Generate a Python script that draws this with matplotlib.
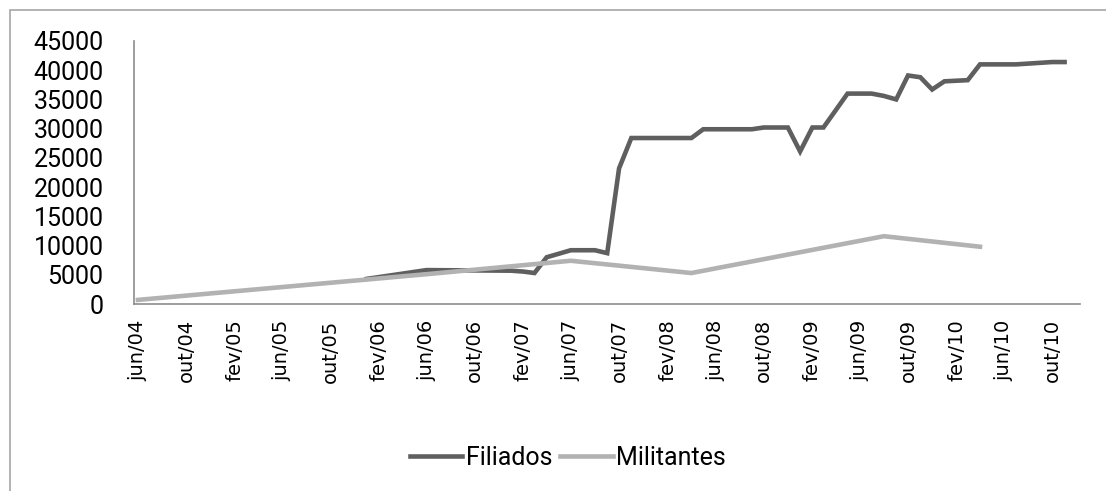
import matplotlib.pyplot as plt
import matplotlib.ticker as mticker
import matplotlib.dates as mdates
from matplotlib.patches import Rectangle
import pandas as pd

# filiados por mês
filiados_meses = ["2006-01", "2006-06", "2007-01", "2007-02", "2007-03", "2007-04",
                  "2007-06", "2007-08", "2007-09", "2007-10", "2007-11", "2008-04",
                  "2008-05", "2008-09", "2008-10", "2008-12", "2009-01", "2009-02",
                  "2009-03", "2009-05", "2009-07", "2009-08", "2009-09", "2009-10",
                  "2009-11", "2009-12", "2010-01", "2010-03", "2010-04", "2010-07",
                  "2010-10", "2010-11"]
filiados = [4300, 5800, 5700, 5550, 5300, 8000,
            9200, 9200, 8700, 23200, 28400, 28400,
            29900, 29900, 30200, 30200, 26100, 30200,
            30200, 36000, 36000, 35600, 35000, 39100,
            38800, 36700, 38100, 38300, 41000, 41000,
            41400, 41400]

# militantes
militantes_meses = ["2004-06", "2005-06", "2006-06", "2007-06", "2008-04", "2009-08", "2010-04"]
militantes = [700, 2900, 5100, 7400, 5300, 11600, 9800]

meses_pt = ["jan", "fev", "mar", "abr", "mai", "jun", "jul", "ago", "set", "out", "nov", "dez"]
ticks_x = pd.date_range("2004-06-01", "2010-10-01", freq="4MS")

x_fil = pd.to_datetime(filiados_meses)
x_mil = pd.to_datetime(militantes_meses)

fig = plt.figure(figsize=(11.06, 4.91), dpi=100)
ax = fig.add_axes([134 / 1106, 1 - 304 / 491, (1080 - 134) / 1106, (304 - 41) / 491])

ax.plot(x_fil, filiados, color="#5f5f5f", lw=3.3, solid_joinstyle="miter", label="Filiados")
ax.plot(x_mil, militantes, color="#b2b2b2", lw=3.3, solid_joinstyle="miter", label="Militantes")

ax.set_ylim(0, 45000)
ax.set_xlim(pd.Timestamp("2004-05-22"), pd.Timestamp("2010-12-10"))
ax.yaxis.set_major_locator(mticker.MultipleLocator(5000))
ax.set_xticks(ticks_x)
ax.xaxis.set_major_formatter(mticker.FuncFormatter(
    lambda v, pos: "{}/{:02d}".format(meses_pt[mdates.num2date(v).month - 1],
                                      mdates.num2date(v).year % 100)))

for s in ["top", "right"]:
    ax.spines[s].set_visible(False)
for s in ["left", "bottom"]:
    ax.spines[s].set_color("#8c8c8c")
    ax.spines[s].set_linewidth(1.2)

ax.tick_params(axis="y", length=0, pad=22, labelsize=18, colors="black")
ax.tick_params(axis="x", length=0, pad=11, labelsize=14, rotation=90)
for t in ax.get_yticklabels():
    t.set_family("Roboto")
for t in ax.get_xticklabels():
    t.set_family("DejaVu Sans")

leg = fig.legend(loc="center", bbox_to_anchor=(568 / 1106, 1 - 458 / 491), ncol=2,
                 frameon=False, handlelength=2.1, handletextpad=0.15, columnspacing=0.3,
                 prop={"family": "Roboto", "size": 18})

# moldura do gráfico
fig.patches.append(Rectangle((10 / 1106, -0.1), 1.2, 1 - 10 / 491 + 0.1,
                             transform=fig.transFigure, fill=False,
                             edgecolor="#a6a6a6", lw=1.2))

fig.savefig("out.png", dpi=100)
